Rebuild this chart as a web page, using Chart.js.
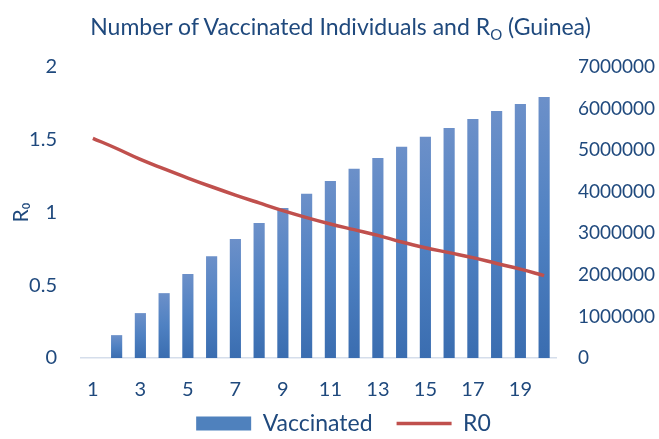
<!DOCTYPE html>
<html>
<head>
<meta charset="utf-8">
<script src="https://cdn.jsdelivr.net/npm/chart.js@4"></script>
<style>
  html, body { margin:0; padding:0; background:#fff; }
  #wrap { position:relative; width:659px; height:439px; overflow:hidden; }
  #title { position:absolute; left:11px; top:12px; width:659px; text-align:center;
    font-family:Lato, 'Open Sans', sans-serif; font-size:23px; color:#1F497D; line-height:28px; }
  #title sub { font-size:15px; vertical-align:-5px; line-height:0; }
</style>
</head>
<body>
<div id="wrap">
  <canvas id="c" width="659" height="439"></canvas>
  <div id="title">Number of Vaccinated Individuals and R<sub>O</sub> (Guinea)</div>
</div>
<script>
const periods = ['1','2','3','4','5','6','7','8','9','10','11','12','13','14','15','16','17','18','19','20'];
const vaccinated = [0, 550000, 1080000, 1560000, 2020000, 2450000, 2860000, 3250000, 3610000, 3950000,
                    4260000, 4550000, 4810000, 5080000, 5320000, 5530000, 5750000, 5940000, 6110000, 6280000];
const r0 = [1.51, 1.44, 1.365, 1.30, 1.237, 1.177, 1.12, 1.066, 1.013, 0.965,
            0.921, 0.882, 0.843, 0.797, 0.758, 0.724, 0.69, 0.65, 0.611, 0.566];
const leftTicks = [0, 0.5, 1, 1.5, 2];
const rightTicks = [0, 1000000, 2000000, 3000000, 4000000, 5000000, 6000000, 7000000];

const txt = '#1F497D';
const font = 'Lato, "Open Sans", sans-serif';

function barFill(ctx) {
  const chart = ctx.chart;
  const y2 = chart.scales && chart.scales.y2;
  if (ctx.raw === undefined || !y2 || !chart.chartArea) return '#4F81BD';
  const top = y2.getPixelForValue(ctx.raw), bot = y2.getPixelForValue(0);
  if (!(bot - top > 0)) return '#4F81BD';
  const g = chart.ctx.createLinearGradient(0, top, 0, bot);
  g.addColorStop(0, '#6C90C9');
  g.addColorStop(0.5, '#4F81C2');
  g.addColorStop(1, '#3A6DB0');
  return g;
}

// legend keeps a wide gap between items but reserves little height; drawn a bit higher and right
const legendFit = {
  id:'legendFit',
  beforeLayout(chart) {
    const lg = chart.legend;
    if (!lg || lg._fixed) return;
    const fit = lg.fit;
    lg.fit = function() { fit.call(this); this.height = 36; };
    lg._fixed = true;
  },
  afterLayout(chart) {
    const lg = chart.legend;
    if (lg) { lg.top -= 15; lg.left += 14; lg.right += 14; }
  }
};

new Chart(document.getElementById('c'), {
  data: {
    labels: periods,
    datasets: [
      { type:'bar', label:'Vaccinated', data:vaccinated, yAxisID:'y2', order:1,
        backgroundColor: barFill, borderWidth:0,
        barPercentage:0.47, categoryPercentage:1 },
      { type:'line', label:'R0', data:r0, yAxisID:'y', order:0,
        borderColor:'#C0504D', backgroundColor:'#C0504D', borderWidth:3.5,
        pointRadius:0, tension:0.4, fill:false },
    ]
  },
  plugins:[legendFit],
  options: {
    responsive:false, animation:false,
    layout:{ padding:{ top:67, left:0, right:0, bottom:0 } },
    plugins:{
      legend:{ position:'bottom',
        labels:{ color:txt, font:{ family:font, size:23 }, usePointStyle:true,
          pointStyleWidth:55, boxHeight:14, padding:24,
          sort:(a,b) => a.datasetIndex - b.datasetIndex,
          generateLabels: chart => Chart.defaults.plugins.legend.labels.generateLabels(chart).map(l => {
            if (l.datasetIndex === 0) { l.pointStyle = 'rect'; l.fillStyle = '#4F81BD'; l.lineWidth = 0; }
            else { l.pointStyle = 'line'; l.strokeStyle = '#C0504D'; l.lineWidth = 3.5; }
            return l;
          }) } },
      tooltip:{ enabled:false },
    },
    scales:{
      x:{ grid:{ display:false, drawTicks:false }, border:{ display:true, color:'#D5DEEB', width:1.5 },
          afterFit: s => { s.height = 45; },
          ticks:{ color:txt, font:{ family:font, size:20 }, padding:20, autoSkip:false, maxRotation:0,
                  callback:(v,i) => i % 2 === 0 ? periods[i] : '' } },
      y:{ position:'left', min:0, max:2,
          afterBuildTicks: s => { s.ticks = leftTicks.map(v => ({ value:v })); },
          afterFit: s => { s.width = 81; },
          grid:{ display:false, drawTicks:false }, border:{ display:false },
          ticks:{ color:txt, font:{ family:font, size:20 }, padding:24, callback:v => String(v) },
          title:{ display:true, text:'R₀', color:txt, font:{ family:font, size:21 }, padding:{ top:9, bottom:0 } } },
      y2:{ position:'right', min:0, max:7000000,
          afterBuildTicks: s => { s.ticks = rightTicks.map(v => ({ value:v })); },
          afterFit: s => { s.width = 103; },
          grid:{ display:false, drawTicks:false }, border:{ display:false },
          ticks:{ color:txt, font:{ family:font, size:19 }, padding:22, callback:v => String(v) } },
    }
  }
});
</script>
</body>
</html>
